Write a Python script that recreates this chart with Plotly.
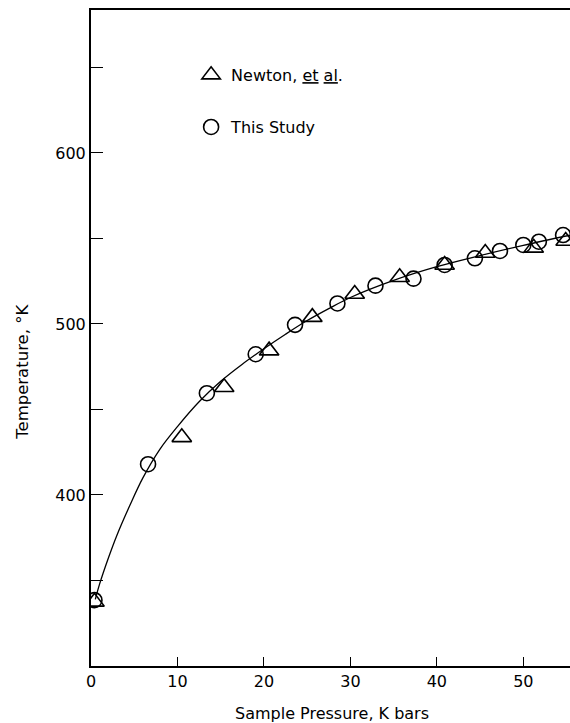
import plotly.graph_objects as go

# Newton, et al. (triangles)
newton_p = [0.4, 10.5, 15.4, 20.6, 25.6, 30.5, 35.7, 40.9, 45.6, 51.2, 54.9]
newton_t = [337.5, 433.7, 463.0, 484.4, 504.0, 517.5, 527.3, 534.5, 541.5, 544.5, 548.5]

# This Study (circles)
study_p = [0.4, 6.6, 13.4, 19.05, 23.6, 28.5, 32.9, 37.3, 40.9, 44.4, 47.3, 50.0, 51.8, 54.6]
study_t = [338.5, 418.0, 459.5, 482.3, 499.5, 512.0, 522.4, 526.5, 534.5, 538.4, 542.7, 546.2, 548.1, 552.0]

# Smooth fitted curve
curve_p = [0.5, 1, 2, 3, 4.5, 6, 8, 10, 12.5, 15, 17.5, 20, 22.5, 25, 27.5, 30, 35, 40, 45, 50, 55.5]
curve_t = [339, 348, 363, 376.5, 394, 410, 427, 440, 454.5, 466.5, 476.5, 485.5, 494, 502, 509, 515.5,
           525.5, 533.5, 540, 546, 552]

y_tickvals = [350, 400, 450, 500, 550, 600, 650]
y_ticktext = ["", "400", "", "500", "", "600", ""]
x_tickvals = [0, 10, 20, 30, 40, 50]
x_ticktext = ["0", "10", "20", "30", "40", "50"]

FONT = "DejaVu Sans"

fig = go.Figure()
fig.add_trace(go.Scatter(
    x=curve_p, y=curve_t, mode="lines", line=dict(color="black", width=1.3, shape="spline"),
    showlegend=False, hoverinfo="skip"))
fig.add_trace(go.Scatter(
    x=newton_p, y=newton_t, mode="markers",
    name='Newton, <span style="text-decoration:underline">et</span> <span style="text-decoration:underline">al</span>.',
    marker=dict(symbol="triangle-up-open", size=17, color="black", line=dict(width=1.6, color="black")),
    legend="legend"))
fig.add_trace(go.Scatter(
    x=study_p, y=study_t, mode="markers", name="This Study",
    marker=dict(symbol="circle-open", size=15, color="black", line=dict(width=1.6, color="black")),
    legend="legend2"))

fig.update_layout(
    width=570, height=723,
    margin=dict(l=91, r=0, t=10, b=57),
    paper_bgcolor="white", plot_bgcolor="white",
    font=dict(family=FONT, size=16, color="black"),
    xaxis=dict(range=[0, 55.4], tickvals=x_tickvals, ticktext=x_ticktext,
               ticks="inside", ticklen=9, tickwidth=1.3, tickcolor="black",
               showline=True, linecolor="black", linewidth=2, mirror=True,
               showgrid=False, zeroline=False, tickfont=dict(size=16)),
    yaxis=dict(range=[300, 683.6], tickvals=y_tickvals, ticktext=y_ticktext,
               ticks="inside", ticklen=12, tickwidth=1.3, tickcolor="black",
               showline=True, linecolor="black", linewidth=2, mirror=False,
               showgrid=False, zeroline=False, tickfont=dict(size=16)),
    legend=dict(x=0.209, y=0.901, xanchor="left", yanchor="middle",
                bgcolor="rgba(0,0,0,0)", font=dict(size=16)),
    legend2=dict(x=0.209, y=0.8216, xanchor="left", yanchor="middle",
                 bgcolor="rgba(0,0,0,0)", font=dict(size=16)),
    annotations=[
        dict(text="Temperature, °K", textangle=-90, xref="paper", yref="paper",
             x=-0.1447, y=0.448, xanchor="center", yanchor="middle",
             showarrow=False, font=dict(size=16.5)),
        dict(text="Sample Pressure, K bars", xref="paper", yref="paper",
             x=0.503, y=-0.073, xanchor="center", yanchor="middle",
             showarrow=False, font=dict(size=16)),
    ],
)

fig.write_html("out.html", config={"displayModeBar": False},
               post_script="document.body.style.margin='0';document.body.style.overflow='hidden';")
